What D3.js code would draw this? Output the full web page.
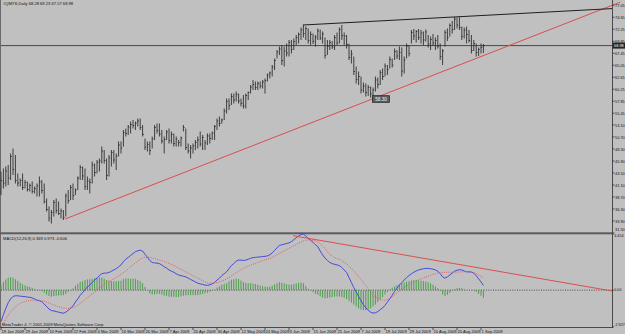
<!DOCTYPE html>
<html>
<head>
<meta charset="utf-8">
<script src="https://d3js.org/d3.v7.min.js"></script>
<style>
  html, body { margin: 0; padding: 0; background: #c0c0c0; overflow: hidden; }
  svg { display: block; }
  text { font-family: "Liberation Sans", Arial, sans-serif; fill: #111; }
</style>
</head>
<body>
<svg id="chart" width="625" height="334"></svg>
<script>
// daily bars, 19 Jan 2009 .. 3 Sep 2009 (one entry per bar)
const highs = [
  43.8,44.4,44.8,45.1,47.4,48.4,47.1,43.4,42.4,43.4,
  42.1,41.8,41.4,41.8,40.8,41.4,42.8,42.1,41.4,38.4,
  36.8,36.1,38.1,38.4,37.8,36.4,36.1,39.4,40.1,41.1,
  41.4,40.4,42.8,45.1,44.8,44.4,42.8,42.4,45.8,45.4,
  46.1,46.4,48.8,48.1,46.4,47.1,48.1,48.1,47.4,49.8,
  49.8,52.1,52.4,53.1,53.8,54.1,53.8,54.4,54.4,53.1,
  50.4,49.8,49.8,50.8,53.1,53.4,53.4,52.1,50.8,52.1,
  52.4,51.8,51.4,50.8,50.1,50.8,53.1,52.4,49.4,49.1,
  49.4,50.1,50.8,51.8,51.1,50.1,51.4,51.4,51.8,53.1,
  54.4,54.8,54.4,56.4,58.4,58.4,59.4,59.4,59.8,59.4,
  58.4,59.1,59.4,59.8,61.1,62.1,61.8,61.8,61.8,62.1,
  62.4,63.4,63.8,65.1,66.4,68.1,68.8,69.1,68.8,69.4,
  70.1,70.1,70.4,71.1,71.6,72.6,73.1,72.8,72.4,71.8,
  71.4,71.1,72.4,72.2,71.8,70.6,70.1,70.1,69.9,71.1,
  71.6,72.6,73.1,71.6,71.1,69.4,68.1,66.8,64.8,63.8,
  62.8,61.6,61.4,61.1,60.8,60.6,62.8,62.6,64.1,64.4,
  65.4,65.1,66.8,66.4,68.4,68.1,68.8,68.6,66.8,69.4,
  69.1,72.1,72.3,72.1,72.3,72.1,71.8,72.2,71.1,70.8,
  71.3,70.6,71.1,69.4,68.3,72.1,72.4,73.4,73.9,74.7,
  74.6,74.7,72.8,72.6,72.8,72.1,71.1,70.1,69.4,68.6,
  69.4,69.3
];
const lows = [
  39.1,40.4,40.8,41.1,42.1,43.1,41.4,40.8,40.8,40.1,
  40.4,39.8,39.8,39.4,39.4,38.8,38.8,39.4,37.4,35.8,
  33.8,33.4,34.8,35.4,35.1,34.4,34.1,34.8,37.4,38.1,
  38.1,39.1,40.1,42.1,42.1,40.1,40.1,39.4,41.4,42.8,
  43.4,43.8,45.4,45.4,42.1,42.8,44.8,45.4,44.1,46.8,
  47.4,48.8,50.8,51.1,51.4,52.4,52.1,52.8,52.1,50.8,
  48.1,47.8,47.1,48.4,50.1,51.4,50.8,49.4,47.4,50.1,
  49.4,49.4,48.8,48.8,48.8,48.8,51.8,48.1,47.4,46.4,
  47.4,48.1,48.4,48.8,48.1,48.1,49.1,49.4,50.1,50.1,
  52.1,52.8,53.4,54.1,55.4,56.1,57.1,57.4,57.8,57.4,
  56.8,56.4,56.4,58.1,59.4,60.1,60.1,60.1,60.4,60.4,
  59.4,61.8,62.4,62.8,64.1,66.4,67.1,65.1,64.8,66.8,
  66.8,67.4,68.1,69.1,69.4,70.1,70.6,70.1,69.4,69.1,
  69.3,68.8,70.1,70.1,69.4,66.4,67.1,68.1,68.3,68.1,
  69.1,69.4,70.1,69.1,68.4,66.1,65.4,63.1,61.4,61.1,
  59.4,59.6,58.8,58.9,58.6,58.3,59.8,60.4,61.1,62.1,
  62.8,63.1,64.4,64.6,66.1,66.3,66.1,62.8,63.4,66.4,
  66.8,69.4,70.1,69.6,70.1,69.4,69.1,69.8,68.6,68.1,
  68.9,68.1,68.4,66.1,65.1,68.8,69.9,70.8,71.4,72.1,
  72.4,72.1,70.1,70.4,69.4,69.6,67.4,67.9,66.8,66.9,
  67.4,67.5
];
const closes = [
  42.0,41.5,43.9,42.5,46.8,44.2,42.0,41.5,42.0,40.6,
  41.6,40.2,41.0,39.8,40.4,40.9,41.7,40.0,37.8,36.2,
  34.5,35.6,37.6,36.0,35.4,35.9,34.6,38.9,38.0,40.6,
  39.0,40.1,42.5,44.6,42.9,40.8,41.9,41.6,45.1,43.6,
  45.6,45.9,47.9,46.0,43.0,46.5,47.6,46.1,46.9,49.1,
  48.5,51.6,51.4,52.7,53.2,53.0,53.5,53.9,52.6,51.2,
  48.7,49.2,48.0,50.3,52.6,52.0,51.3,49.9,50.2,51.7,
  50.0,51.2,49.4,50.3,49.6,50.5,52.6,48.6,47.9,48.5,
  48.9,49.6,50.1,49.3,50.6,49.5,50.9,50.4,51.5,52.8,
  53.9,53.4,54.1,55.9,57.8,57.0,58.8,58.1,59.2,57.9,
  57.4,56.9,59.0,59.6,60.7,61.2,60.6,61.4,60.9,61.7,
  62.0,63.1,63.5,64.7,66.0,67.7,68.3,66.0,67.9,67.5,
  69.6,68.2,69.8,70.6,71.2,72.1,71.4,72.4,70.0,71.2,
  69.8,70.7,71.9,70.5,71.3,67.0,68.8,69.6,68.7,70.6,
  69.5,72.2,71.0,70.9,69.2,66.6,67.3,63.8,62.2,62.8,
  60.1,60.9,59.6,60.6,59.3,60.1,62.1,61.2,63.6,62.8,
  64.9,64.2,66.2,65.1,67.8,66.9,67.6,63.9,66.1,68.9,
  67.4,71.6,70.9,71.8,70.6,71.5,70.1,71.7,69.3,70.2,
  69.5,70.0,68.9,66.8,67.9,71.6,70.6,73.0,72.2,74.3,
  73.1,72.6,70.8,72.1,71.2,70.0,68.0,69.4,67.6,68.2,
  68.6,68.98
];

// MACD(12,26,9): main line, signal line, histogram
const macdMain = [
  -2.5,-1.95,-1.45,-1.0,-0.7,-0.5,-0.45,-0.45,-0.48,-0.5,
  -0.52,-0.55,-0.57,-0.62,-0.7,-0.8,-0.85,-0.92,-1.1,-1.3,
  -1.5,-1.62,-1.65,-1.7,-1.75,-1.8,-1.83,-1.75,-1.6,-1.45,
  -1.25,-0.95,-0.7,-0.4,-0.2,0.05,0.25,0.4,0.6,0.8,
  0.95,1.15,1.3,1.35,1.35,1.4,1.5,1.6,1.7,1.85,
  2.0,2.25,2.45,2.6,2.75,2.9,3.05,3.12,3.17,3.1,
  2.85,2.6,2.35,2.2,2.15,2.15,2.1,2.0,1.85,1.75,
  1.6,1.5,1.42,1.3,1.2,1.15,1.1,1.05,0.95,0.85,
  0.75,0.65,0.55,0.5,0.45,0.4,0.38,0.42,0.5,0.6,
  0.8,0.95,1.15,1.3,1.45,1.7,1.95,2.1,2.3,2.38,
  2.38,2.36,2.38,2.45,2.52,2.58,2.6,2.62,2.64,2.66,
  2.68,2.72,2.8,2.95,3.15,3.35,3.55,3.6,3.65,3.7,
  3.75,3.85,4.0,4.15,4.3,4.42,4.45,4.3,4.1,3.95,
  3.8,3.6,3.45,3.1,2.8,2.55,2.35,2.2,2.1,2.05,
  2.0,1.95,1.8,1.6,1.4,1.0,0.6,0.2,-0.15,-0.5,
  -0.85,-1.15,-1.4,-1.6,-1.75,-1.82,-1.8,-1.7,-1.55,-1.42,
  -1.2,-0.95,-0.7,-0.4,-0.1,0.15,0.4,0.6,0.8,1.0,
  1.15,1.3,1.42,1.52,1.6,1.65,1.7,1.72,1.72,1.7,
  1.66,1.6,1.5,1.3,1.05,0.95,1.05,1.2,1.35,1.5,
  1.58,1.62,1.6,1.52,1.45,1.45,1.43,1.35,1.15,0.9,
  0.65,0.369
];
const macdSignal = [
  -2.93,-2.6,-2.3,-2.0,-1.72,-1.5,-1.32,-1.18,-1.06,-0.97,
  -0.9,-0.85,-0.82,-0.8,-0.79,-0.79,-0.81,-0.84,-0.88,-0.95,
  -1.03,-1.1,-1.18,-1.25,-1.32,-1.38,-1.43,-1.45,-1.45,-1.42,
  -1.38,-1.3,-1.2,-1.05,-0.9,-0.75,-0.6,-0.45,-0.3,-0.15,
  0.0,0.15,0.3,0.45,0.55,0.65,0.78,0.9,1.0,1.12,
  1.25,1.38,1.52,1.68,1.85,2.0,2.15,2.3,2.45,2.55,
  2.6,2.62,2.6,2.55,2.5,2.45,2.4,2.35,2.28,2.2,
  2.12,2.03,1.95,1.85,1.75,1.65,1.55,1.45,1.35,1.25,
  1.15,1.05,0.95,0.85,0.75,0.65,0.58,0.55,0.55,0.57,
  0.6,0.65,0.72,0.8,0.9,1.0,1.12,1.25,1.38,1.5,
  1.62,1.72,1.82,1.9,1.98,2.06,2.12,2.2,2.27,2.34,
  2.4,2.46,2.52,2.6,2.7,2.8,2.92,3.02,3.12,3.22,
  3.32,3.42,3.52,3.62,3.72,3.82,3.9,3.95,3.98,3.98,
  3.96,3.9,3.82,3.7,3.5,3.3,3.05,2.85,2.68,2.57,
  2.5,2.45,2.35,2.2,2.1,1.9,1.72,1.52,1.3,1.05,
  0.85,0.6,0.35,0.1,-0.15,-0.38,-0.55,-0.68,-0.76,-0.8,
  -0.8,-0.74,-0.65,-0.52,-0.38,-0.22,-0.06,0.08,0.2,0.32,
  0.43,0.53,0.62,0.72,0.82,0.9,0.97,1.04,1.1,1.17,
  1.24,1.3,1.35,1.38,1.4,1.41,1.42,1.42,1.42,1.42,
  1.43,1.44,1.45,1.46,1.46,1.45,1.43,1.38,1.3,1.2,
  1.1,0.973
];
const macdHist = [
  0.43,0.65,0.85,1.0,1.02,1.0,0.87,0.73,0.58,0.47,
  0.38,0.3,0.25,0.18,0.09,-0.01,-0.04,-0.08,-0.22,-0.35,
  -0.47,-0.52,-0.47,-0.45,-0.43,-0.42,-0.4,-0.3,-0.15,-0.03,
  0.13,0.35,0.5,0.65,0.7,0.8,0.85,0.85,0.9,0.95,
  0.95,1.0,1.0,0.9,0.8,0.75,0.72,0.7,0.7,0.73,
  0.75,0.87,0.93,0.92,0.9,0.9,0.9,0.82,0.72,0.55,
  0.25,-0.02,-0.25,-0.35,-0.35,-0.3,-0.3,-0.35,-0.43,-0.45,
  -0.52,-0.53,-0.53,-0.55,-0.55,-0.5,-0.45,-0.4,-0.4,-0.4,
  -0.4,-0.4,-0.4,-0.35,-0.3,-0.25,-0.2,-0.13,-0.05,0.03,
  0.2,0.3,0.43,0.5,0.55,0.7,0.83,0.85,0.92,0.88,
  0.76,0.64,0.56,0.55,0.54,0.52,0.48,0.42,0.37,0.32,
  0.28,0.26,0.28,0.35,0.45,0.55,0.63,0.58,0.53,0.48,
  0.43,0.43,0.48,0.53,0.58,0.6,0.55,0.35,0.12,-0.03,
  -0.16,-0.3,-0.37,-0.5,-0.6,-0.65,-0.62,-0.6,-0.55,-0.52,
  -0.5,-0.5,-0.55,-0.6,-0.7,-0.85,-1.0,-1.15,-1.3,-1.45,
  -1.55,-1.6,-1.6,-1.55,-1.45,-1.3,-1.15,-0.95,-0.75,-0.55,
  -0.35,-0.15,0.05,0.2,0.3,0.4,0.48,0.55,0.6,0.68,
  0.72,0.77,0.8,0.8,0.78,0.75,0.72,0.68,0.62,0.53,
  0.42,0.3,0.15,-0.08,-0.35,-0.46,-0.37,-0.22,-0.07,0.08,
  0.15,0.18,0.15,0.06,-0.01,0.0,0.0,-0.03,-0.15,-0.3,
  -0.45,-0.606
];

// axis labels
const priceTicks = [77.05,74.65,72.25,69.85,67.45,65.05,62.65,60.25,57.85,55.45,
                    53.10,50.70,48.30,45.90,43.50,41.10,38.70,36.30,33.90,31.50];
const macdTicks = [4.454, 0, -2.927];
const dateLabels = ["19 Jan 2009","29 Jan 2009","10 Feb 2009","22 Feb 2009","4 Mar 2009",
  "16 Mar 2009","26 Mar 2009","7 Apr 2009","20 Apr 2009","30 Apr 2009","12 May 2009",
  "24 May 2009","3 Jun 2009","15 Jun 2009","25 Jun 2009","7 Jul 2009","19 Jul 2009",
  "29 Jul 2009","10 Aug 2009","20 Aug 2009","1 Sep 2009"];

// user drawn objects: [bar index, value]
const supportLine = [[26.7, 34.3], [258, 77.67]];
const resistanceLine = [[125.8, 73.1], [254.6, 76.38]];
const macdTrendLine = [[121.7, 4.32], [254.6, -0.07]];
const lowMarker = [155, 58.30];

const W = 625, H = 334;
const plotRight = 612;
const svg = d3.select("#chart");

svg.append("rect").attr("width", W).attr("height", H).attr("fill", "#c0c0c0");

const x = d3.scaleLinear().domain([0, 250]).range([1, 601]);
const yP = d3.scaleLinear().domain([31.7, 77.7]).range([232, 2]);
const yM = d3.scaleLinear().domain([-2.927, 4.454]).range([327, 234]);

const lastPrice = closes[closes.length - 1];

// frame
svg.append("line").attr("x1", 0.5).attr("x2", 0.5).attr("y1", 0).attr("y2", 328)
  .attr("stroke", "#6a6a6a");
svg.append("rect").attr("x", 0).attr("y", 232.3).attr("width", plotRight).attr("height", 2)
  .attr("fill", "#5c5c5c");
svg.append("line").attr("x1", 0).attr("x2", plotRight).attr("y1", 327.5).attr("y2", 327.5)
  .attr("stroke", "#4a4a4a");
svg.append("line").attr("x1", plotRight + 0.5).attr("x2", plotRight + 0.5).attr("y1", 0).attr("y2", 328)
  .attr("stroke", "#4a4a4a");

// bid line
svg.append("line").attr("x1", 1).attr("x2", plotRight).attr("y1", yP(lastPrice)).attr("y2", yP(lastPrice))
  .attr("stroke", "#3a3a3a").attr("stroke-width", 0.9);

// price bars
const bars = svg.append("g").attr("stroke", "#262626").attr("stroke-width", 0.85);
bars.selectAll("line.hl").data(highs).join("line").attr("class", "hl")
  .attr("x1", (d, i) => x(i)).attr("x2", (d, i) => x(i))
  .attr("y1", d => yP(d)).attr("y2", (d, i) => yP(lows[i]));
bars.selectAll("line.cl").data(closes).join("line").attr("class", "cl")
  .attr("x1", (d, i) => x(i)).attr("x2", (d, i) => x(i) + 1.2)
  .attr("y1", d => yP(d)).attr("y2", d => yP(d));

// trend lines on price
const lineP = d3.line().x(d => x(d[0])).y(d => yP(d[1]));
svg.append("path").attr("d", lineP(supportLine)).attr("fill", "none")
  .attr("stroke", "#d94f4f").attr("stroke-width", 1);
svg.append("path").attr("d", lineP(resistanceLine)).attr("fill", "none")
  .attr("stroke", "#1e1e1e").attr("stroke-width", 1);

// low marker label
const mk = svg.append("g");
mk.append("rect").attr("x", x(lowMarker[0]) - 0.5).attr("y", yP(lowMarker[1]) - 3.3)
  .attr("width", 17).attr("height", 6.6).attr("fill", "#5e5e5e").attr("stroke", "#1e1e1e").attr("stroke-width", 0.7);
mk.append("text").attr("x", x(lowMarker[0]) + 8).attr("y", yP(lowMarker[1]))
  .attr("text-anchor", "middle").attr("dominant-baseline", "central")
  .attr("font-size", 4.6).style("fill", "#f2f2f2").text(lowMarker[1].toFixed(2));

// price axis (bottom label kept just above the panel separator)
const pAxis = svg.append("g");
pAxis.selectAll("line").data(priceTicks).join("line")
  .attr("x1", plotRight).attr("x2", plotRight + 2.5)
  .attr("y1", d => yP(d)).attr("y2", d => yP(d)).attr("stroke", "#333").attr("stroke-width", 0.8);
pAxis.selectAll("text").data(priceTicks).join("text")
  .attr("x", plotRight + 3).attr("y", d => Math.min(yP(d), 229.8)).attr("dominant-baseline", "central")
  .attr("font-size", 3.9).text(d => d.toFixed(2));

svg.append("rect").attr("x", plotRight + 0.5).attr("y", yP(lastPrice) - 3).attr("width", 12.5).attr("height", 6)
  .attr("fill", "#262626");
svg.append("text").attr("x", plotRight + 2).attr("y", yP(lastPrice)).attr("dominant-baseline", "central")
  .attr("font-size", 3.9).style("fill", "#f0f0f0").text(lastPrice.toFixed(2));

// MACD panel
svg.append("line").attr("x1", 1).attr("x2", plotRight).attr("y1", yM(0)).attr("y2", yM(0))
  .attr("stroke", "#2e2e2e").attr("stroke-width", 0.8).attr("stroke-dasharray", "1,1.4");

svg.append("g").attr("stroke", "#4f9d4f").attr("stroke-width", 1)
  .selectAll("line").data(macdHist).join("line")
  .attr("x1", (d, i) => x(i)).attr("x2", (d, i) => x(i))
  .attr("y1", yM(0)).attr("y2", d => yM(d));

const lineM = d3.line().x((d, i) => x(i)).y(d => yM(d));
svg.append("path").attr("d", lineM(macdMain)).attr("fill", "none")
  .attr("stroke", "#4848e0").attr("stroke-width", 1);
svg.append("path").attr("d", lineM(macdSignal)).attr("fill", "none")
  .attr("stroke", "#e05a5a").attr("stroke-width", 1).attr("stroke-dasharray", "1,1.3");

const lineMT = d3.line().x(d => x(d[0])).y(d => yM(d[1]));
svg.append("path").attr("d", lineMT(macdTrendLine)).attr("fill", "none")
  .attr("stroke", "#d94f4f").attr("stroke-width", 1);

const mAxis = svg.append("g");
mAxis.selectAll("line").data(macdTicks).join("line")
  .attr("x1", plotRight).attr("x2", plotRight + 2)
  .attr("y1", d => yM(d)).attr("y2", d => yM(d)).attr("stroke", "#333").attr("stroke-width", 0.8);
mAxis.selectAll("text").data(macdTicks).join("text")
  .attr("x", plotRight + 2.3)
  .attr("y", (d, i) => i === 0 ? yM(d) + 2.4 : (i === macdTicks.length - 1 ? yM(d) - 1.8 : yM(d)))
  .attr("dominant-baseline", "central").attr("font-size", 3.7)
  .text(d => d === 0 ? "0.00" : d.toFixed(3));

// time axis: MetaTrader puts a date every 10 bars
const tAxis = svg.append("g");
tAxis.selectAll("line").data(dateLabels).join("line")
  .attr("x1", (d, k) => x(k * 10)).attr("x2", (d, k) => x(k * 10))
  .attr("y1", 327.5).attr("y2", 330).attr("stroke", "#333").attr("stroke-width", 0.8);
tAxis.selectAll("text").data(dateLabels).join("text")
  .attr("x", (d, k) => x(k * 10) + 0.5).attr("y", 333)
  .attr("font-size", 4.1).text(d => d);

// captions
svg.append("text").attr("x", 3).attr("y", 5.2).attr("font-size", 4.1)
  .text("#QMYS,Daily  68.28 69.23 67.57 68.98");
svg.append("text").attr("x", 3).attr("y", 239.5).attr("font-size", 4.1)
  .text("MACD(12,26,9)  0.369 0.973 -0.606");
svg.append("text").attr("x", 2).attr("y", 325.5).attr("font-size", 4.1)
  .text("MetaTrader 4, \u00a9 2001-2009 MetaQuotes Software Corp.");
</script>
</body>
</html>
